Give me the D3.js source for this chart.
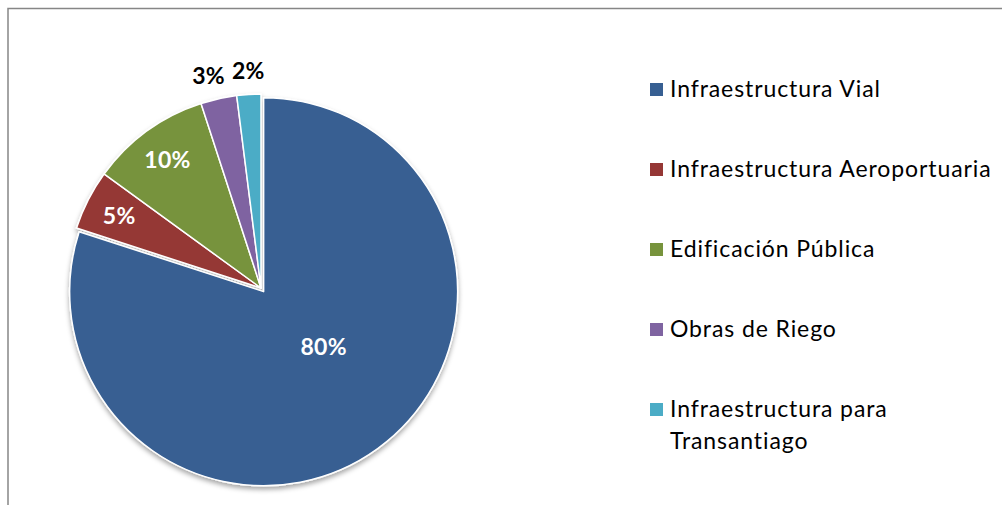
<!DOCTYPE html>
<html>
<head>
<meta charset="utf-8">
<script src="https://cdn.jsdelivr.net/npm/d3@7"></script>
<style>
  body { margin: 0; background: #fff; }
  #chart { width: 1002px; height: 505px; }
  text { font-family: Lato, "Open Sans", sans-serif; }
</style>
</head>
<body>
<div id="chart"></div>
<script>
// chart data
const categories = [
    "Infraestructura Vial",
    "Infraestructura Aeroportuaria",
    "Edificación Pública",
    "Obras de Riego",
    "Infraestructura para Transantiago"
];
const shares = [80, 5, 10, 3, 2];
const sliceColors = ["#375f92", "#953735", "#77933c", "#7f64a1", "#4bacc6"];

const width = 1002;
const height = 505;
const radius = 194;
const center = {x: 261, y: 288};
const explode = 4.5;   // the big slice is pulled out a little

const svg = d3.select("#chart")
    .append("svg")
    .attr("width", width)
    .attr("height", height);

/*****************
***** FILTER *****
*****************/

const defs = svg.append("defs");
const shadow = defs.append("filter")
    .attr("id", "shadow")
    .attr("x", "-20%").attr("y", "-20%")
    .attr("width", "140%").attr("height", "140%");
shadow.append("feDropShadow")
    .attr("dx", 0)
    .attr("dy", 3)
    .attr("stdDeviation", 2.5)
    .attr("flood-color", "#000")
    .attr("flood-opacity", 0.35);

// frame (only top and left edges are inside the picture)
svg.append("path")
    .attr("d", `M8,${height} V8.5 H${width}`)
    .attr("fill", "none")
    .attr("stroke", "#868686")
    .attr("stroke-width", 1.5);

/**************
***** PIE *****
**************/

const pie = d3.pie().sort(null).value(d => d.value);
const arcs = pie(categories.map((c, i) => ({name: c, value: shares[i], color: sliceColors[i]})));

const arc = d3.arc().innerRadius(0).outerRadius(radius);
const innerLabelArc = d3.arc().innerRadius(radius * 0.82).outerRadius(radius * 0.82);
const outerLabelArc = d3.arc().innerRadius(radius * 1.12).outerRadius(radius * 1.12);
const total = d3.sum(shares);

function offset(d) {
    if (d.index !== 0) return [0, 0];
    const mid = (d.startAngle + d.endAngle) / 2;
    return [Math.sin(mid) * explode, -Math.cos(mid) * explode];
}

const plot = svg.append("g")
    .attr("id", "plot")
    .attr("transform", `translate(${center.x},${center.y})`);

plot.append("g")
    .attr("filter", "url(#shadow)")
    .selectAll("path")
    .data(arcs)
    .join("path")
    .attr("transform", d => `translate(${offset(d)})`)
    .attr("d", arc)
    .attr("fill", d => d.data.color)
    .attr("stroke", "#fff")
    .attr("stroke-width", 1.5)
    .attr("stroke-linejoin", "round");

// labels: big slices inside in white, small ones outside in black
plot.selectAll(".pieLabel")
    .data(arcs)
    .join("text")
    .attr("class", "pieLabel")
    .attr("transform", d => {
        const o = offset(d);
        let p;
        if (d.index === 0) {
            const mid = (d.startAngle + d.endAngle) / 2 - 0.2;
            p = [Math.sin(mid) * radius * 0.42, -Math.cos(mid) * radius * 0.42];
        } else if (d.data.value >= 5) {
            p = innerLabelArc.centroid(d);
        } else {
            p = outerLabelArc.centroid(d);
            p = [p[0] - (d.data.value === 3 ? 5 : -1), p[1]];
        }
        return `translate(${p[0] + o[0]},${p[1] + o[1]})`;
    })
    .attr("text-anchor", "middle")
    .attr("dy", "0.36em")
    .attr("font-size", 23)
    .attr("font-weight", "bold")
    .attr("letter-spacing", 0.3)
    .attr("fill", d => d.data.value >= 5 ? "#fff" : "#000")
    .text(d => Math.round(d.data.value / total * 100) + "%");

/*****************
***** LEGEND *****
*****************/

const legend = svg.append("g")
    .attr("id", "legend")
    .attr("transform", "translate(650,0)");

const legendY = d3.scalePoint()
    .domain(categories)
    .range([97, 417]);

const rows = legend.selectAll(".legendRow")
    .data(arcs)
    .join("g")
    .attr("class", "legendRow")
    .attr("transform", d => `translate(0,${legendY(d.data.name)})`);

rows.append("rect")
    .attr("x", 0)
    .attr("y", -14)
    .attr("width", 13)
    .attr("height", 13)
    .attr("fill", d => d.data.color);

rows.append("text")
    .attr("x", 20)
    .attr("font-size", 23)
    .attr("letter-spacing", 0.9)
    .attr("fill", "#000")
    .each(function(d) {
        // wrap the long name onto two lines like the original
        const words = d.data.name === "Infraestructura para Transantiago"
            ? ["Infraestructura para", "Transantiago"]
            : [d.data.name];
        d3.select(this).selectAll("tspan")
            .data(words)
            .join("tspan")
            .attr("x", 20)
            .attr("dy", (w, i) => i === 0 ? 0 : 32)
            .text(w => w);
    });
</script>
</body>
</html>
